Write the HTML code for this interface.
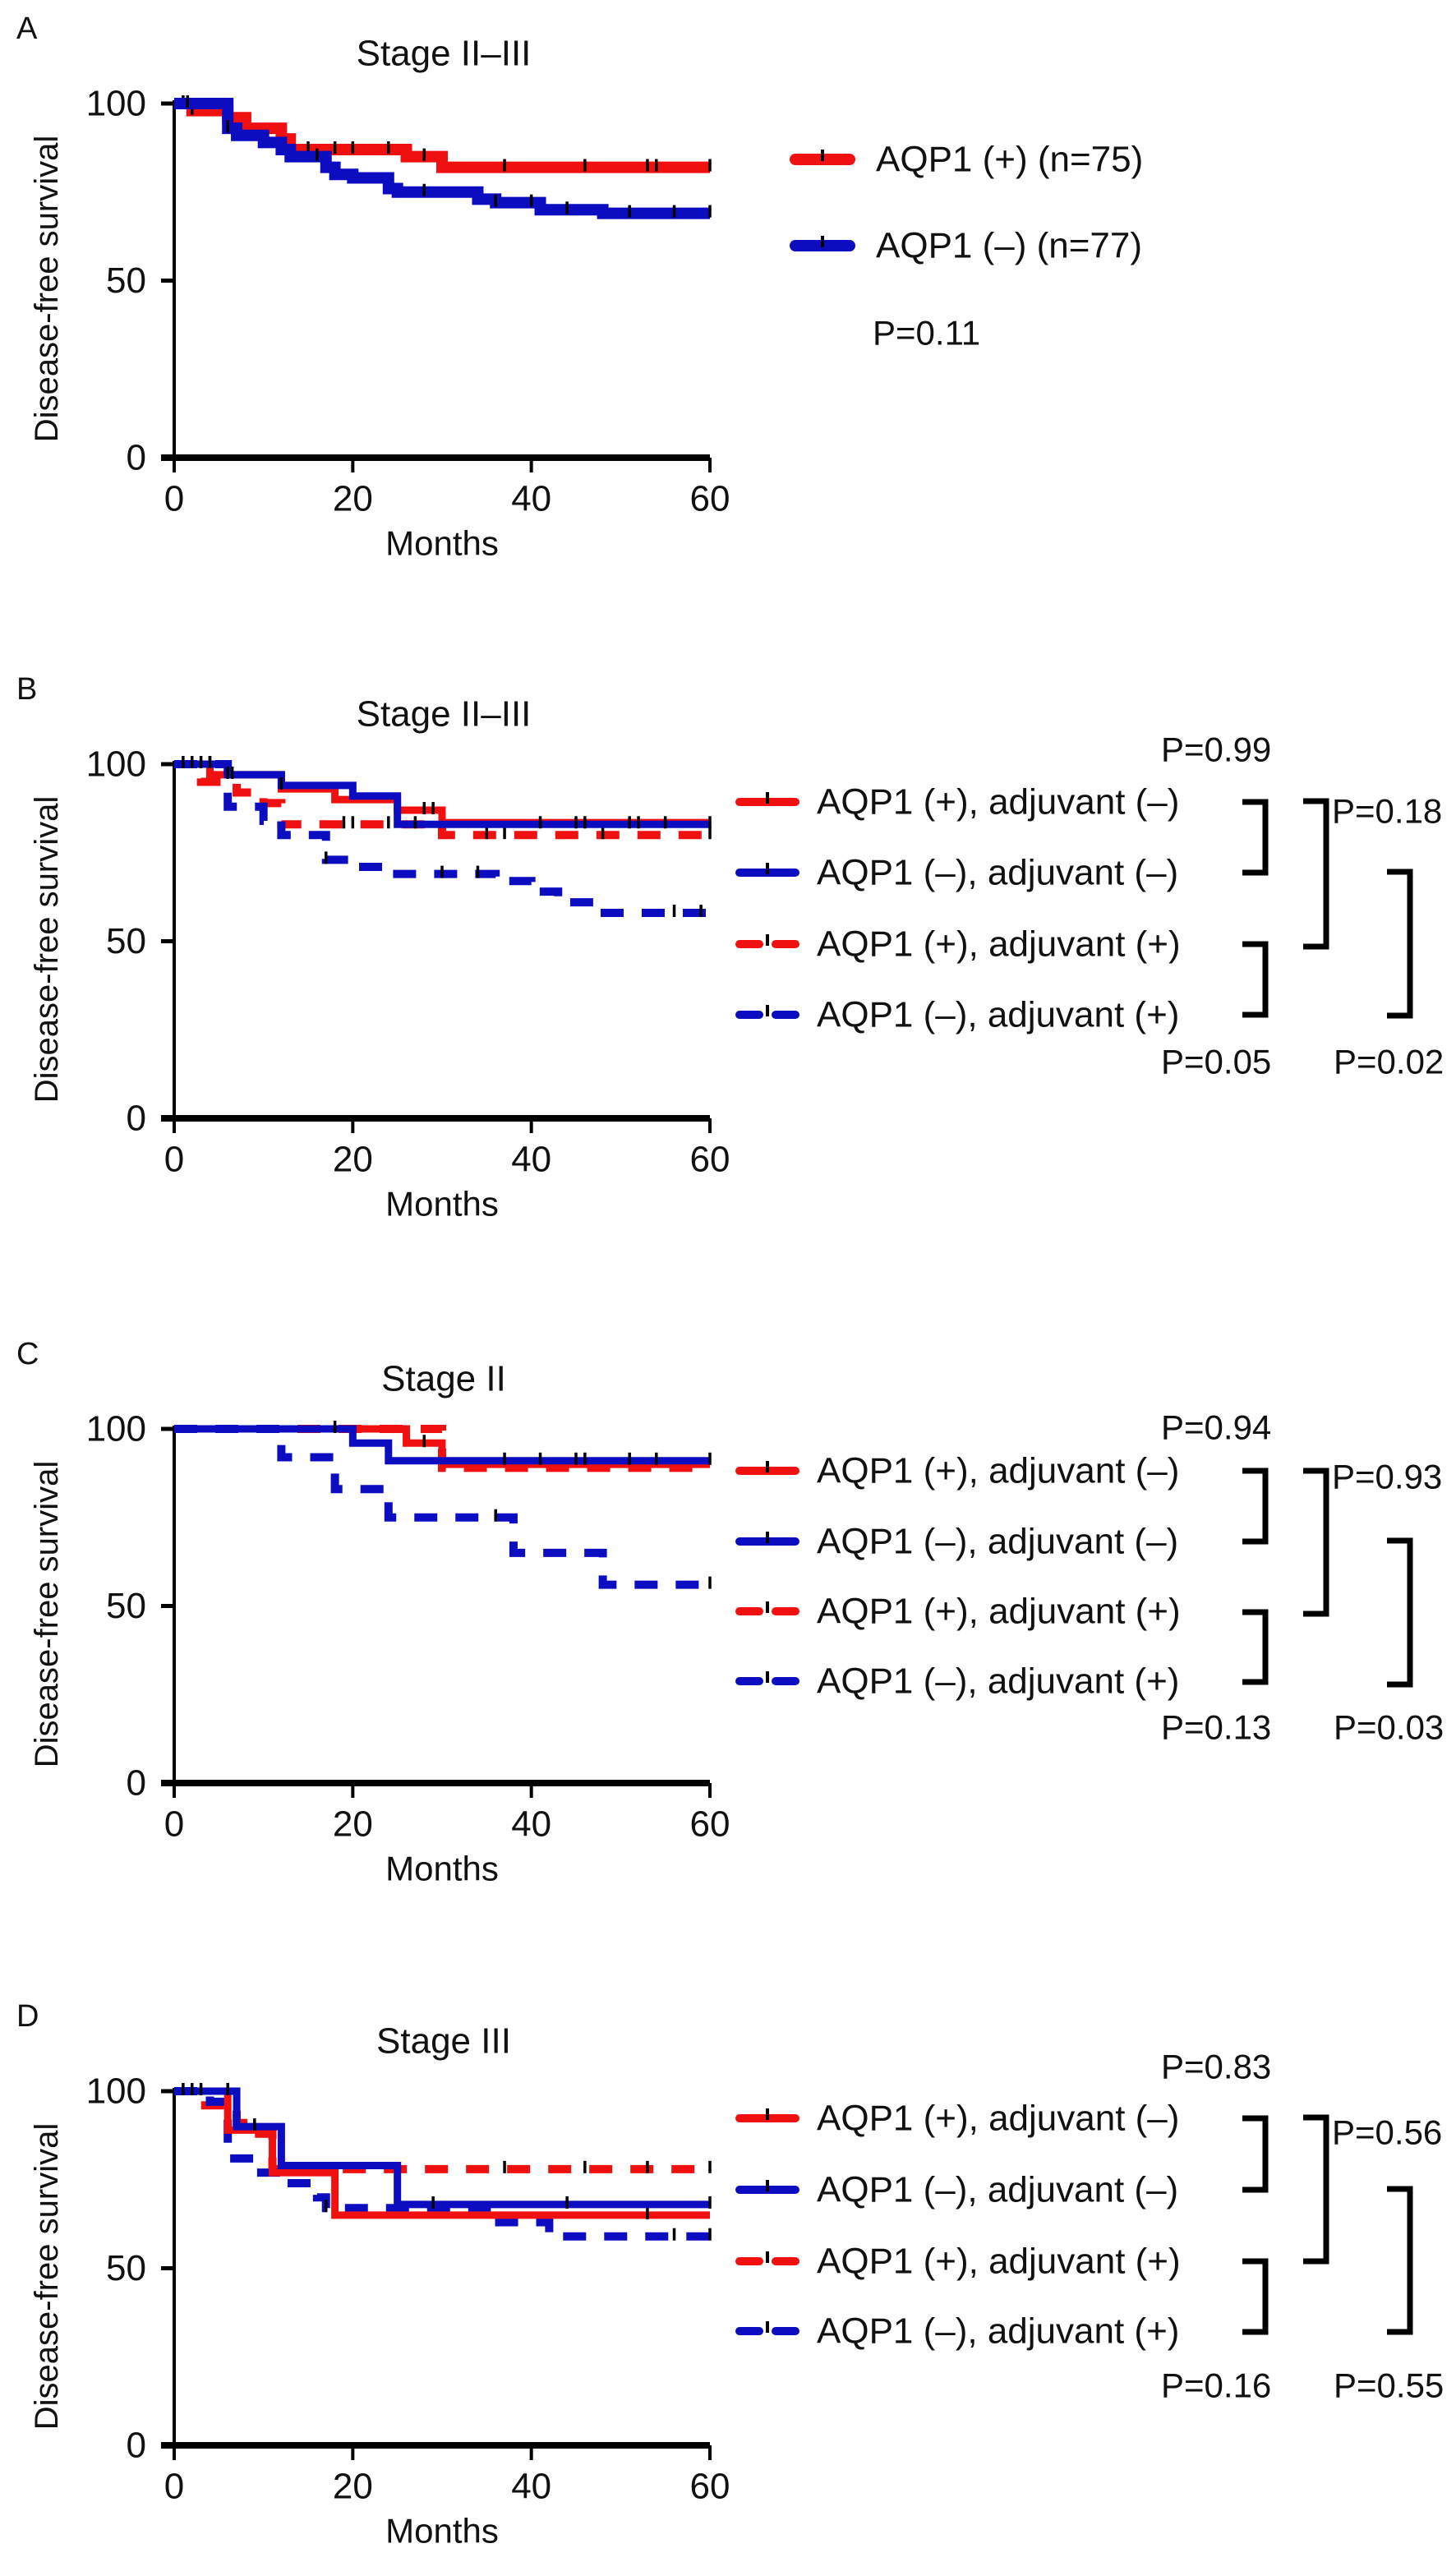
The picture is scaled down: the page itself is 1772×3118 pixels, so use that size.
<!DOCTYPE html>
<html><head><meta charset="utf-8"><style>
html,body{margin:0;padding:0;background:#fff;}
svg{display:block;font-family:"Liberation Sans",Arial,sans-serif;}
</style></head><body>
<svg id="fig" width="1772" height="3118" viewBox="0 0 1772 3118" xmlns="http://www.w3.org/2000/svg"></svg>
<script>
// ---- data (months at which survival drops, survival % after drop) ----
const xTicks=[0,20,40,60];
const yTicks=[0,50,100];
// Panel A
const A_pos_t=[2,6,8,12,13,26,30];
const A_pos_s=[98,96,93,90,87,85,82];
const A_pos_c=[1,2,15,18,20,24,28,37,46,53,54,60];
const A_neg_t=[6,7,10,12,13,17,18,20,24,25,34,36,41,48];
const A_neg_s=[93,91,89,87,85,82,80,79,76,75,73,72,70,69];
const A_neg_c=[1.5,6,16,28,36,40,44,51,56,60];
// Panel B
const B_pa_t=[4,12,18,25,30];     const B_pa_s=[97,93,90,87,83.5];  const B_pa_c=[28,29];
const B_na_t=[6,12,20,25];        const B_na_s=[97,94,91,83];    const B_na_c=[1,2,3,4,6,6.5,12,27,41,45,46,51,52,55,60];
const B_pp_t=[3,7,10,12,30];      const B_pp_s=[95,92,89,83,80];  const B_pp_c=[19,20,24,35,37,48,60];
const B_np_t=[6,10,12,17,20,24,36,40,43,47]; const B_np_s=[88,84,80,73,71,69,67,64,61,58]; const B_np_c=[4,17,30,34,56,59];
// Panel C
const C_pa_t=[26,30];   const C_pa_s=[96,90];  const C_pa_c=[28];
const C_na_t=[20,24];   const C_na_s=[96,91];  const C_na_c=[18,37,41,45,46,51,54,60];
const C_pp_t=[30];      const C_pp_s=[89];     const C_pp_c=[];
const C_np_t=[12,18,24,38,48]; const C_np_s=[92,83,75,65,56]; const C_np_c=[36,60];
// Panel D
const D_pa_t=[6,11,18];  const D_pa_s=[89,77,65];  const D_pa_c=[53];
const D_na_t=[7,12,25];  const D_na_s=[90,79,68];  const D_na_c=[1,2,3,6,9,29,44,60];
const D_pp_t=[3,7,9,11]; const D_pp_s=[96,91,88,78]; const D_pp_c=[37,46,53,60];
const D_np_t=[4,6,9,12,16,17,35,42]; const D_np_s=[97,81,77,74,70,67,63,59]; const D_np_c=[17,56,60];
// P values
const B_p=["P=0.99","P=0.18","P=0.05","P=0.02"];
const C_p=["P=0.94","P=0.93","P=0.13","P=0.03"];
const D_p=["P=0.83","P=0.56","P=0.16","P=0.55"];

const RED="#f01010", BLUE="#0c0cc0";
const svg=document.getElementById('fig');
const NS="http://www.w3.org/2000/svg";
function mk(tag,attrs,parent){const e=document.createElementNS(NS,tag);for(const k in attrs)e.setAttribute(k,attrs[k]);(parent||svg).appendChild(e);return e;}
function txt(x,y,s,size,anchor,parent){const t=mk('text',{x:x,y:y,'font-size':size,'text-anchor':anchor||'start','dominant-baseline':'central',fill:'#111'},parent);t.textContent=s;return t;}

const X0=212,X60=864;
function xs(m){return X0+(X60-X0)*m/60;}
function survAt(ts,ss,m){let s=100;for(let i=0;i<ts.length;i++){if(ts[i]<=m)s=ss[i];}return s;}

function drawCurve(g,ys,ts,ss,cs,color,dashed,w,name){
  let d="M"+xs(0)+","+ys(100);
  for(let i=0;i<ts.length;i++){d+=" H"+xs(ts[i])+" V"+ys(ss[i]);}
  d+=" H"+xs(60);
  const p=mk('path',{d:d,fill:'none',stroke:color,'stroke-width':w,'stroke-dasharray':dashed?'28,22':'none'},g);
  
  
  cs.forEach(function(c){
    const y=ys(survAt(ts,ss,c));
    const l=mk('line',{x1:xs(c),x2:xs(c),y1:y-10,y2:y+5,stroke:'#000','stroke-width':3.5},g);
    
    
  });
}

function axes(g,top,label,title){
  const bot=top+431;
  const ys=function(v){return bot-(bot-top)*v/100;};
  const L=txt(20,top-91,label,38,'start',g);
  
  
  const T=txt(540,top-61,title,44,'middle',g);
  
  
  const ya=mk('line',{x1:X0,x2:X0,y1:top-4,y2:bot,stroke:'#000','stroke-width':4},g);
  
  
  yTicks.forEach(function(v){
    mk('line',{x1:X0-16,x2:X0,y1:ys(v),y2:ys(v),stroke:'#000','stroke-width':5},g);
    const t=txt(178,ys(v),String(v),44,'end',g);
    
    
  });
  const xa=mk('line',{x1:X0-16,x2:X60,y1:bot,y2:bot,stroke:'#000','stroke-width':8},g);
  
  
  xTicks.forEach(function(v){
    mk('line',{x1:xs(v),x2:xs(v),y1:bot,y2:bot+18,stroke:'#000','stroke-width':4},g);
    const t=txt(xs(v),bot+50,String(v),44,'middle',g);
    
    
  });
  const xt=txt(538,bot+104,'Months',42,'middle',g);
  
  
  const yt=txt(0,0,'Disease-free survival',40,'middle',g);
  yt.setAttribute('transform','translate(57,'+((top+bot)/2+10)+') rotate(-90)');
  
  
  return ys;
}

function legendRow(g,y,color,dashed,label,x1,x2,tx,w){
  const row=mk('g',{},g);
  
  
  if(dashed){
    mk('line',{x1:x1,x2:x1+24,y1:y,y2:y,stroke:color,'stroke-width':w,'stroke-linecap':'round'},row);
    mk('line',{x1:x2-24,x2:x2,y1:y,y2:y,stroke:color,'stroke-width':w,'stroke-linecap':'round'},row);
  } else {
    mk('line',{x1:x1,x2:x2,y1:y,y2:y,stroke:color,'stroke-width':w,'stroke-linecap':'round'},row);
  }
  mk('line',{x1:(x1+x2)/2,x2:(x1+x2)/2,y1:y-12,y2:y+2,stroke:'#000','stroke-width':4},row);
  txt(tx,y,label,44,'start',row);
}
function bracket(g,x,ya,yb){
  const b=mk('path',{d:'M'+(x-28)+','+ya+' H'+x+' V'+yb+' H'+(x-28),fill:'none',stroke:'#000','stroke-width':7},g);
  
  
}

// Panel A
(function(){
  const g=mk('g',{});  
  const ys=axes(g,126,'A','Stage II–III');
  drawCurve(g,ys,A_pos_t,A_pos_s,A_pos_c,RED,false,14,'aqp1-positive');
  drawCurve(g,ys,A_neg_t,A_neg_s,A_neg_c,BLUE,false,14,'aqp1-negative');
  legendRow(g,194,RED,false,'AQP1 (+) (n=75)',968,1034,1066,14);
  legendRow(g,299,BLUE,false,'AQP1 (–) (n=77)',968,1034,1066,14);
  const p=txt(1062,405,'P=0.11',42,'start',g);
  
  
})();

function panel4(name,top,label,title,series,rows,pv,pys,br){
  const g=mk('g',{});  
  const ys=axes(g,top,label,title);
  series.forEach(function(s){drawCurve(g,ys,s[0],s[1],s[2],s[3],s[4],s[4]?10:9,s[5]);});
  const labels=['AQP1 (+), adjuvant (–)','AQP1 (–), adjuvant (–)','AQP1 (+), adjuvant (+)','AQP1 (–), adjuvant (+)'];
  const cols=[RED,BLUE,RED,BLUE];
  for(let i=0;i<4;i++) legendRow(g,rows[i],cols[i],i>=2,labels[i],900,968,994,10);
  const pxs=[1413,1621,1413,1623];
  for(let i=0;i<4;i++){const t=txt(pxs[i],pys[i],pv[i],42,'start',g);}
  br.forEach(function(b){bracket(g,b[0],b[1],b[2]);});
}
panel4('panel-b',930,'B','Stage II–III',
  [[B_pa_t,B_pa_s,B_pa_c,RED,false,'aqp1-pos-adj-neg'],[B_pp_t,B_pp_s,B_pp_c,RED,true,'aqp1-pos-adj-pos'],[B_np_t,B_np_s,B_np_c,BLUE,true,'aqp1-neg-adj-pos'],[B_na_t,B_na_s,B_na_c,BLUE,false,'aqp1-neg-adj-neg']],
  [976,1062,1149,1235],B_p,[912,987,1292,1292],
  [[1540,976,1062],[1540,1149,1235],[1614,975,1152],[1716,1061,1236]]);
panel4('panel-c',1739,'C','Stage II',
  [[C_pp_t,C_pp_s,C_pp_c,RED,true,'aqp1-pos-adj-pos'],[C_pa_t,C_pa_s,C_pa_c,RED,false,'aqp1-pos-adj-neg'],[C_np_t,C_np_s,C_np_c,BLUE,true,'aqp1-neg-adj-pos'],[C_na_t,C_na_s,C_na_c,BLUE,false,'aqp1-neg-adj-neg']],
  [1790,1876,1961,2046],C_p,[1737,1797,2102,2102],
  [[1540,1790,1876],[1540,1962,2047],[1614,1790,1964],[1716,1875,2050]]);
panel4('panel-d',2545,'D','Stage III',
  [[D_pp_t,D_pp_s,D_pp_c,RED,true,'aqp1-pos-adj-pos'],[D_np_t,D_np_s,D_np_c,BLUE,true,'aqp1-neg-adj-pos'],[D_pa_t,D_pa_s,D_pa_c,RED,false,'aqp1-pos-adj-neg'],[D_na_t,D_na_s,D_na_c,BLUE,false,'aqp1-neg-adj-neg']],
  [2578,2665,2752,2837],D_p,[2515,2595,2903,2903],
  [[1540,2578,2665],[1540,2752,2838],[1614,2577,2752],[1716,2664,2838]]);
</script>
</body></html>
